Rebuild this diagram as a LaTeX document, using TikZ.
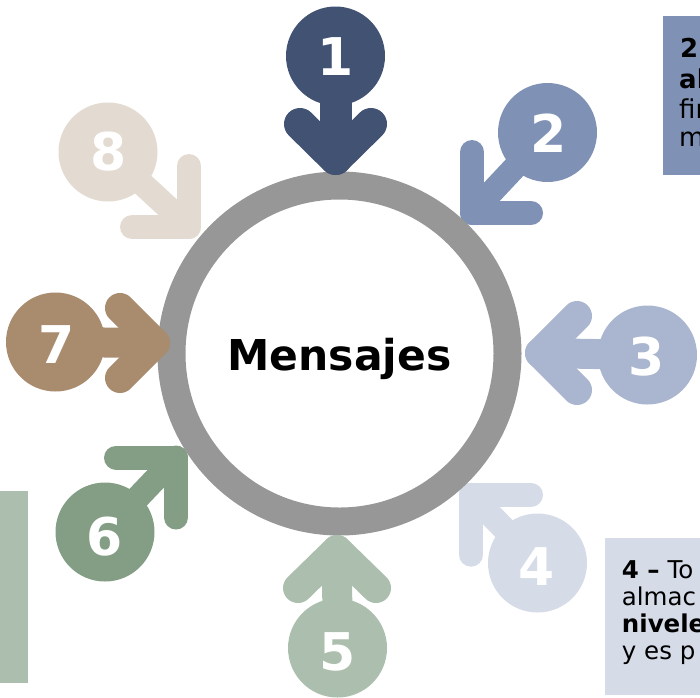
\documentclass[tikz,border=0pt]{standalone}
\usepackage{fontspec}
\setmainfont{DejaVu Sans}
\definecolor{cA}{HTML}{425272}
\definecolor{cB}{HTML}{7F92B5}
\definecolor{cC}{HTML}{AAB6CF}
\definecolor{cD}{HTML}{D5DBE7}
\definecolor{cE}{HTML}{ACBFAE}
\definecolor{cF}{HTML}{849E86}
\definecolor{cG}{HTML}{A98B6E}
\definecolor{cH}{HTML}{E3DBD1}
\definecolor{ringgray}{HTML}{979797}
\begin{document}
\begin{tikzpicture}[x=1pt,y=-1pt,
  numcirc/.style={circle, fill=#1, minimum size=99pt, inner sep=0pt},
  numtext/.style={text=white, inner sep=0pt, font=\fontsize{52}{52}\selectfont\bfseries},
  axarrow/.style={draw=#1, line width=30pt, line cap=round, line join=round},
  diagarrow/.style={draw=#1, line width=24pt, line cap=round, line join=round},
  boxtext/.style={anchor=base west, inner sep=0pt, font=\fontsize{#1}{#1}\selectfont},
]
\useasboundingbox (0,0) rectangle (700,697);
\begin{scope}
\clip (0,0) rectangle (700,697);

% text boxes
\fill[cB] (663,16) rectangle (710,175);
\fill[cD] (605,538) rectangle (710,695);
\fill[cE] (-10,491) rectangle (27.7,683);

\node[boxtext=26] (t2a) at (680,57) {\bfseries 2 –};
\node[boxtext=26] (t2b) at (679,88) {\bfseries al};
\node[boxtext=26] (t2c) at (679,118) {fin};
\node[boxtext=26] (t2d) at (679,146) {m};

\node[boxtext=24.5] (t4a) at (621.7,578) {\bfseries 4 –\mdseries\ To};
\node[boxtext=24.5] (t4b) at (621.7,605) {almac};
\node[boxtext=24.5] (t4c) at (621.7,632) {\bfseries nivele};
\node[boxtext=24.5] (t4d) at (621.7,659) {y es p};

% diagonal arrows (under the ring)
\node[numcirc=cB] (c2) at (547.5,132.5) {};
\coordinate (v2) at (472,213);
\coordinate (a2) at (472,152);
\coordinate (b2) at (531,213);
\draw[diagarrow=cB] (c2.center) -- (v2);
\draw[diagarrow=cB] (a2) -- (v2) -- (b2);

\node[numcirc=cD] (c4) at (537.5,563) {};
\coordinate (v4) at (471,494.7);
\coordinate (a4) at (531,494.7);
\coordinate (b4) at (471,554.7);
\draw[diagarrow=cD] (c4.center) -- (v4);
\draw[diagarrow=cD] (a4) -- (v4) -- (b4);

\node[numcirc=cF] (c6) at (105,532) {};
\coordinate (v6) at (176,457.5);
\coordinate (a6) at (116,457.5);
\coordinate (b6) at (176,517.5);
\draw[diagarrow=cF] (c6.center) -- (v6);
\draw[diagarrow=cF] (a6) -- (v6) -- (b6);

\node[numcirc=cH] (c8) at (108,152) {};
\coordinate (v8) at (189,227);
\coordinate (a8) at (189,166);
\coordinate (b8) at (132,227);
\draw[diagarrow=cH] (c8.center) -- (v8);
\draw[diagarrow=cH] (a8) -- (v8) -- (b8);

% ring
\node[circle, draw=ringgray, line width=28pt, minimum size=336pt, inner sep=0pt] (ring) at (339.5,353.5) {};
\node[anchor=base, inner sep=0pt, font=\fontsize{42.5}{50}\selectfont\bfseries] (title) at (339.5,370) {Mensajes};

% axis arrows (over the ring)
\node[numcirc=cA] (c1) at (335.5,56) {};
\coordinate (v1) at (335.5,159);
\coordinate (a1) at (300,124);
\coordinate (b1) at (371,124);
\draw[axarrow=cA, line width=32pt] (c1.center) -- (v1);
\draw[axarrow=cA, line width=32pt] (a1) -- (v1) -- (b1);

\node[numcirc=cC] (c3) at (647.5,355) {};
\coordinate (v3) at (540,353);
\coordinate (a3) at (577,316);
\coordinate (b3) at (577,390);
\draw[axarrow=cC] (c3.center) -- (v3);
\draw[axarrow=cC] (a3) -- (v3) -- (b3);

\node[numcirc=cE] (c5) at (337.5,648) {};
\coordinate (v5) at (337,550);
\coordinate (a5) at (298,588);
\coordinate (b5) at (376,588);
\draw[axarrow=cE] (c5.center) -- (v5);
\draw[axarrow=cE] (a5) -- (v5) -- (b5);

\node[numcirc=cG] (c7) at (55.5,342) {};
\coordinate (v7) at (155,343);
\coordinate (a7) at (120,308);
\coordinate (b7) at (120,378);
\draw[axarrow=cG] (c7.center) -- (v7);
\draw[axarrow=cG] (a7) -- (v7) -- (b7);

% numbers
\node[numtext] (n1) at (335.5,57) {1};
\node[numtext] (n2) at (549,133) {2};
\node[numtext] (n3) at (646.7,356.5) {3};
\node[numtext] (n4) at (536.7,566.5) {4};
\node[numtext] (n5) at (338,652) {5};
\node[numtext] (n6) at (105,536.5) {6};
\node[numtext] (n7) at (56.7,345) {7};
\node[numtext] (n8) at (108.3,151.7) {8};
\end{scope}
\end{tikzpicture}
\end{document}
